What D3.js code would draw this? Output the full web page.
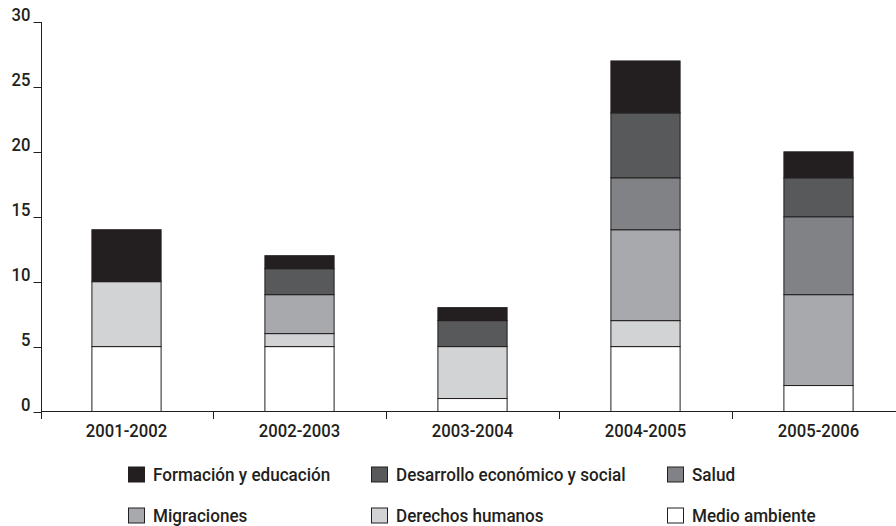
<!DOCTYPE html>
<html><head><meta charset="utf-8">
<script src="https://cdn.jsdelivr.net/npm/d3@7"></script>
<style>body{margin:0;background:#fff}svg{display:block}text{font-family:Roboto,"DejaVu Sans Condensed",sans-serif;font-weight:500;fill:#231f20}</style>
</head><body><svg id="c" width="896" height="526"></svg>
<script>
const categories = ["2001-2002","2002-2003","2003-2004","2004-2005","2005-2006"];
const seriesNames = ["Medio ambiente","Derechos humanos","Migraciones","Salud","Desarrollo económico y social","Formación y educación"];
const medioAmbiente = [5,5,1,5,2];
const derechosHumanos = [5,1,4,2,0];
const migraciones = [0,3,0,7,7];
const salud = [0,0,0,4,6];
const desarrollo = [0,2,2,5,3];
const formacion = [4,1,1,4,2];
const yTicks = [0,5,10,15,20,25,30];
const colors = ["#ffffff","#d1d3d4","#a7a9ac","#808285","#58595b","#231f20"];
const legendOrder = ["Formación y educación","Desarrollo económico y social","Salud","Migraciones","Derechos humanos","Medio ambiente"];

const svg = d3.select("#c");
const seriesValues = [medioAmbiente,derechosHumanos,migraciones,salud,desarrollo,formacion];
const rows = categories.map((c,i)=>{const o={cat:c};seriesNames.forEach((s,j)=>o[s]=seriesValues[j][i]);return o;});
const stack = d3.stack().keys(seriesNames)(rows);

const x = d3.scaleBand().domain(categories).range([40,905]).paddingInner(0.6).paddingOuter(0.3);
const y = d3.scaleLinear().domain([0,30]).range([411.5,22]);
const color = d3.scaleOrdinal().domain(seriesNames).range(colors);
const SX = 0.9; // horizontal condensing of the text

// bars
svg.append("g").selectAll("g").data(stack).join("g")
  .attr("fill",d=>color(d.key))
  .selectAll("rect").data(d=>d).join("rect")
  .attr("x",d=>x(d.data.cat)).attr("width",x.bandwidth())
  .attr("y",d=>y(d[1])).attr("height",d=>y(d[0])-y(d[1]))
  .attr("stroke","#231f20").attr("stroke-width",1)
  .style("display",d=>d[1]-d[0]>0?null:"none");

// y axis
const ya = svg.append("g").attr("transform","translate(41.5,0)");
ya.append("line").attr("y1",y(30)).attr("y2",419).attr("stroke","#231f20");
ya.selectAll("line.t").data(yTicks).join("line").attr("class","t")
  .attr("x1",-8).attr("x2",0).attr("y1",d=>Math.round(y(d))+0.5).attr("y2",d=>Math.round(y(d))+0.5).attr("stroke","#231f20");
ya.selectAll("text").data(yTicks).join("text")
  .attr("transform",d=>`translate(-11,${y(d)-1}) scale(${SX},1)`).attr("text-anchor","end")
  .style("font-size","18.5px").text(d=>d);

// x axis
const xa = svg.append("g");
xa.append("line").attr("x1",41).attr("x2",896).attr("y1",411.5).attr("y2",411.5).attr("stroke","#231f20");
const step = x.step();
xa.selectAll("line.t").data(categories.slice(1)).join("line").attr("class","t")
  .attr("x1",d=>Math.round(x(d)+x.bandwidth()/2-step/2)+0.5).attr("x2",d=>Math.round(x(d)+x.bandwidth()/2-step/2)+0.5)
  .attr("y1",411.5).attr("y2",419).attr("stroke","#231f20");
xa.selectAll("text").data(categories).join("text")
  .attr("transform",d=>`translate(${x(d)+x.bandwidth()/2},436.5) scale(${SX},1)`).attr("text-anchor","middle")
  .style("font-size","18.5px").text(d=>d);

// legend
const lx = [128,371,667], ly = [474.5,515.5];
const lg = svg.append("g").selectAll("g").data(legendOrder).join("g")
  .attr("transform",(d,i)=>`translate(${lx[i%3]},${ly[Math.floor(i/3)]})`);
lg.append("rect").attr("x",0.5).attr("y",-7.5).attr("width",16).attr("height",15)
  .attr("fill",d=>color(d)).attr("stroke","#231f20");
lg.append("text").attr("transform",`translate(25,6.5) scale(${SX},1)`).style("font-size","19px").text(d=>d);
</script></body></html>
